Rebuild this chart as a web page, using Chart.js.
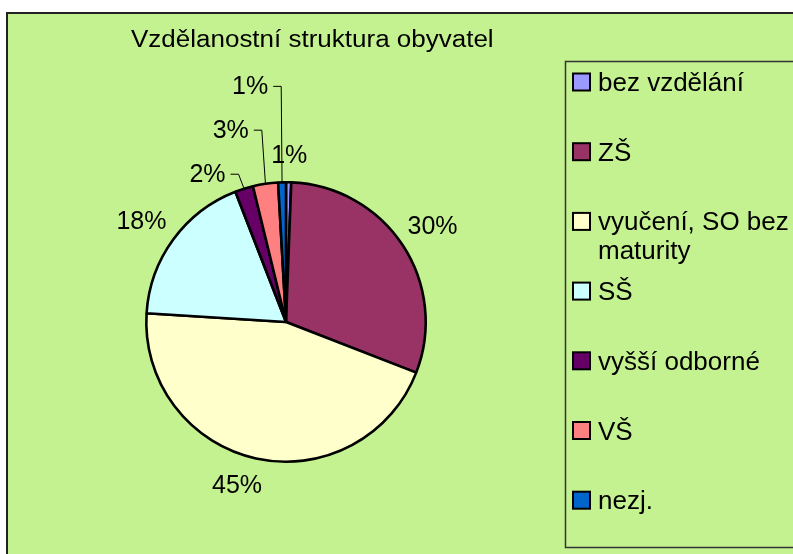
<!DOCTYPE html>
<html>
<head>
<meta charset="utf-8">
<script src="https://cdn.jsdelivr.net/npm/chart.js@4/dist/chart.umd.min.js"></script>
<style>
  html, body { margin: 0; padding: 0; background: #fff; }
  canvas { display: block; }
</style>
</head>
<body>
<canvas id="vzdelaniChart" width="793" height="554"></canvas>
<script>
// data (shares in %)
const title = 'Vzdělanostní struktura obyvatel';
const categories = ['bez vzdělání', 'ZŠ', 'vyučení, SO bez maturity', 'SŠ', 'vyšší odborné', 'VŠ', 'nezj.'];
const shares = [0.6, 30.3, 45.1, 18.1, 2.1, 2.9, 0.9];
const colors = ['#9999ff', '#993366', '#ffffcc', '#ccffff', '#660066', '#ff8080', '#0066cc'];

const bg = '#c5f291';
const font = '"Liberation Sans", Arial, sans-serif';

// label nudges from the default outside position, and which labels get a leader line
const labelNudge = [[0, 6], [3, -1], [-12, -4], [-6, 1], [-27, 17], [-30, -21], [-31, -63]];
const hasLeader = [false, false, false, false, true, true, true];

const framePlugin = {
    id: 'frame',
    beforeDraw(chart) {
        const c = chart.ctx;
        c.save();
        c.fillStyle = bg;
        c.fillRect(7, 13, 800, 560);
        c.strokeStyle = '#222';
        c.lineWidth = 2;
        c.beginPath();
        c.moveTo(7, 560); c.lineTo(7, 13); c.lineTo(800, 13);
        c.stroke();

        // title, a bit wider than the plain font
        c.save();
        c.translate(131, 47);
        c.scale(1.13, 1);
        c.fillStyle = '#000';
        c.font = '23px ' + font;
        c.textBaseline = 'alphabetic';
        c.fillText(title, 0, 0);
        c.restore();

        // legend box
        c.strokeStyle = '#333';
        c.lineWidth = 1.5;
        c.strokeRect(565.5, 61.5, 260, 486);
        c.restore();
    }
};

const legendPlugin = {
    id: 'sideLegend',
    afterDraw(chart) {
        const c = chart.ctx;
        const ds = chart.data.datasets[0];
        c.save();
        c.font = '26px ' + font;
        c.textBaseline = 'alphabetic';
        chart.data.labels.forEach((lab, i) => {
            const cy = 82 + i * 69.7;
            c.fillStyle = ds.backgroundColor[i];
            c.fillRect(573, cy - 8.5, 17, 17);
            c.strokeStyle = '#000';
            c.lineWidth = 2;
            c.strokeRect(573, cy - 8.5, 17, 17);

            // simple word wrap
            const words = lab.split(' ');
            const lines = [];
            let line = '';
            words.forEach(w => {
                const t = line ? line + ' ' + w : w;
                if (line && c.measureText(t).width > 200) { lines.push(line); line = w; }
                else line = t;
            });
            lines.push(line);
            c.fillStyle = '#000';
            lines.forEach((l, k) => c.fillText(l, 598, cy + 9 + k * 29));
        });
        c.restore();
    }
};

const pctPlugin = {
    id: 'pctLabels',
    afterDatasetsDraw(chart) {
        const c = chart.ctx;
        const meta = chart.getDatasetMeta(0);
        const vals = chart.data.datasets[0].data;
        const total = vals.reduce((a, b) => a + b, 0);
        c.save();
        c.font = '25px ' + font;
        c.fillStyle = '#000';
        c.textAlign = 'center';
        c.textBaseline = 'middle';
        meta.data.forEach((arc, i) => {
            const p = arc.getProps(['x', 'y', 'startAngle', 'endAngle', 'outerRadius'], true);
            const mid = (p.startAngle + p.endAngle) / 2;
            const lx = p.x + Math.cos(mid) * (p.outerRadius + 32) + labelNudge[i][0];
            const ly = p.y + Math.sin(mid) * (p.outerRadius + 32) + labelNudge[i][1];
            const txt = Math.round(vals[i] / total * 100) + '%';
            c.fillText(txt, lx, ly);
            if (hasLeader[i]) {
                const w = c.measureText(txt).width;
                const ax = p.x + Math.cos(mid) * p.outerRadius;
                const ay = p.y + Math.sin(mid) * p.outerRadius;
                const sx = lx + w / 2 + 5;
                c.strokeStyle = '#000';
                c.lineWidth = 1;
                c.beginPath();
                c.moveTo(sx, ly - 1);
                c.lineTo(sx + 8, ly - 1);
                c.lineTo(ax, ay);
                c.stroke();
            }
        });
        c.restore();
    }
};

new Chart(document.getElementById('vzdelaniChart'), {
    type: 'pie',
    data: {
        labels: categories,
        datasets: [{
            data: shares,
            backgroundColor: colors,
            borderColor: '#000',
            borderWidth: 2.6
        }]
    },
    options: {
        responsive: false,
        animation: false,
        devicePixelRatio: 1,
        layout: { padding: { left: 145, top: 181, right: 366, bottom: 91 } },
        plugins: {
            legend: { display: false },
            title: { display: false },
            tooltip: { enabled: false }
        }
    },
    plugins: [framePlugin, pctPlugin, legendPlugin]
});
</script>
</body>
</html>
